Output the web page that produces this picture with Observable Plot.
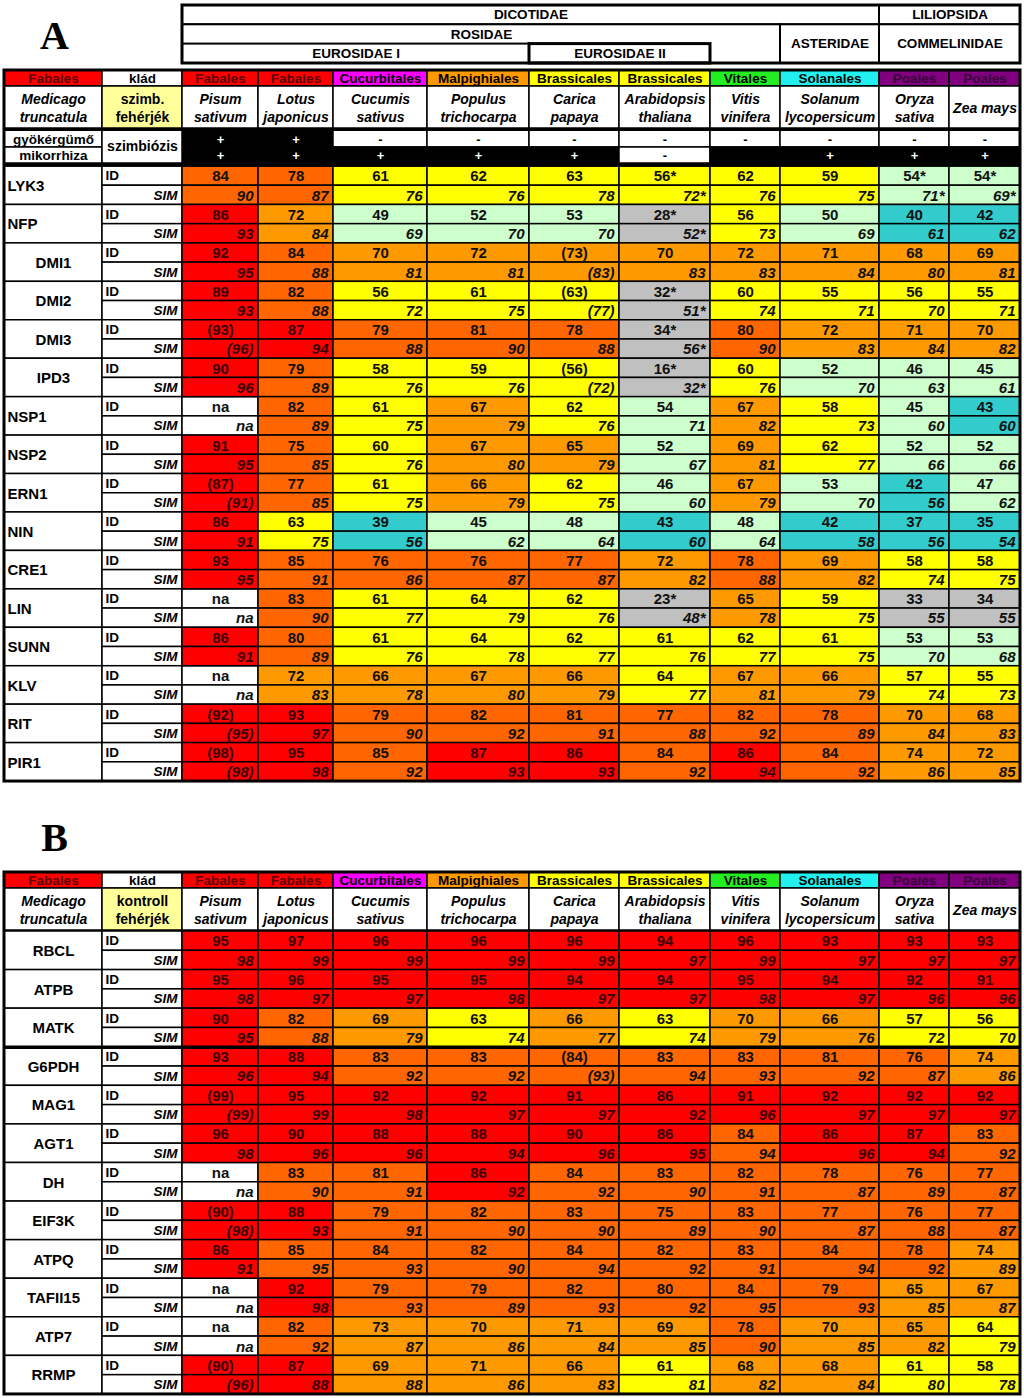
<!DOCTYPE html>
<html><head><meta charset="utf-8">
<script src="https://cdn.jsdelivr.net/npm/d3@7"></script>
<script src="https://cdn.jsdelivr.net/npm/@observablehq/plot@0.6"></script>
<style>body{margin:0;background:#fff} svg{display:block}</style>
</head><body>
<script>
// ---------------- DATA ----------------
const refSpecies = "Medicago truncatula";
const refClade = "Fabales";
const species = ["Pisum sativum","Lotus japonicus","Cucumis sativus","Populus trichocarpa","Carica papaya",
  "Arabidopsis thaliana","Vitis vinifera","Solanum lycopersicum","Oryza sativa","Zea mays"];
const clades = ["Fabales","Fabales","Cucurbitales","Malpighiales","Brassicales","Brassicales","Vitales","Solanales","Poales","Poales"];
// taxonomic groups: species index range [from, to)
const taxGroups = [
  {label:"DICOTIDAE", from:0, to:8, level:0, depth:1},
  {label:"LILIOPSIDA", from:8, to:10, level:0, depth:1},
  {label:"ROSIDAE", from:0, to:7, level:1, depth:2, textTop:true},
  {label:"ASTERIDAE", from:7, to:8, level:1, depth:2},
  {label:"COMMELINIDAE", from:8, to:10, level:1, depth:2},
  {label:"EUROSIDAE I", from:0, to:4, level:2, depth:1},
  {label:"EUROSIDAE II", from:4, to:6, level:2, depth:1, thick:true}
];
const symbLabels = ["gyökérgümő","mikorrhiza"];
const nodulation = ["+","+","-","-","-","-","-","-","-","-"];
const mycorrhiza = ["+","+","+","+","+","-","","+","+","+"];

const genesA = ["LYK3","NFP","DMI1","DMI2","DMI3","IPD3","NSP1","NSP2","ERN1","NIN","CRE1","LIN","SUNN","KLV","RIT","PIR1"];
const idA = [
  ["84","78","61","62","63","56*","62","59","54*","54*"],
  ["86","72","49","52","53","28*","56","50","40","42"],
  ["92","84","70","72","(73)","70","72","71","68","69"],
  ["89","82","56","61","(63)","32*","60","55","56","55"],
  ["(93)","87","79","81","78","34*","80","72","71","70"],
  ["90","79","58","59","(56)","16*","60","52","46","45"],
  ["na","82","61","67","62","54","67","58","45","43"],
  ["91","75","60","67","65","52","69","62","52","52"],
  ["(87)","77","61","66","62","46","67","53","42","47"],
  ["86","63","39","45","48","43","48","42","37","35"],
  ["93","85","76","76","77","72","78","69","58","58"],
  ["na","83","61","64","62","23*","65","59","33","34"],
  ["86","80","61","64","62","61","62","61","53","53"],
  ["na","72","66","67","66","64","67","66","57","55"],
  ["(92)","93","79","82","81","77","82","78","70","68"],
  ["(98)","95","85","87","86","84","86","84","74","72"]
];
const simA = [
  ["90","87","76","76","78","72*","76","75","71*","69*"],
  ["93","84","69","70","70","52*","73","69","61","62"],
  ["95","88","81","81","(83)","83","83","84","80","81"],
  ["93","88","72","75","(77)","51*","74","71","70","71"],
  ["(96)","94","88","90","88","56*","90","83","84","82"],
  ["96","89","76","76","(72)","32*","76","70","63","61"],
  ["na","89","75","79","76","71","82","73","60","60"],
  ["95","85","76","80","79","67","81","77","66","66"],
  ["(91)","85","75","79","75","60","79","70","56","62"],
  ["91","75","56","62","64","60","64","58","56","54"],
  ["95","91","86","87","87","82","88","82","74","75"],
  ["na","90","77","79","76","48*","78","75","55","55"],
  ["91","89","76","78","77","76","77","75","70","68"],
  ["na","83","78","80","79","77","81","79","74","73"],
  ["(95)","97","90","92","91","88","92","89","84","83"],
  ["(98)","98","92","93","93","92","94","92","86","85"]
];

const genesB = ["RBCL","ATPB","MATK","G6PDH","MAG1","AGT1","DH","EIF3K","ATPQ","TAFII15","ATP7","RRMP"];
const idB = [
  ["95","97","96","96","96","94","96","93","93","93"],
  ["95","96","95","95","94","94","95","94","92","91"],
  ["90","82","69","63","66","63","70","66","57","56"],
  ["93","88","83","83","(84)","83","83","81","76","74"],
  ["(99)","95","92","92","91","86","91","92","92","92"],
  ["96","90","88","88","90","86","84","86","87","83"],
  ["na","83","81","86","84","83","82","78","76","77"],
  ["(90)","88","79","82","83","75","83","77","76","77"],
  ["86","85","84","82","84","82","83","84","78","74"],
  ["na","92","79","79","82","80","84","79","65","67"],
  ["na","82","73","70","71","69","78","70","65","64"],
  ["(90)","87","69","71","66","61","68","68","61","58"]
];
const simB = [
  ["98","99","99","99","99","97","99","97","97","97"],
  ["98","97","97","98","97","97","98","97","96","96"],
  ["95","88","79","74","77","74","79","76","72","70"],
  ["96","94","92","92","(93)","94","93","92","87","86"],
  ["(99)","99","98","97","97","92","96","97","97","97"],
  ["98","96","96","94","96","95","94","96","94","92"],
  ["na","90","91","92","92","90","91","87","89","87"],
  ["(98)","93","91","90","90","89","90","87","88","87"],
  ["91","95","93","90","94","92","91","94","92","89"],
  ["na","98","93","89","93","92","95","93","85","87"],
  ["na","92","87","86","84","85","90","85","82","79"],
  ["(96)","88","88","86","83","81","82","84","80","78"]
];
const idBins = [35,45,55,65,75,86];

// ---------------- STYLE / LAYOUT ----------------
const F = "Liberation Sans, Arial, Helvetica, sans-serif";
const binColors = ["#C0C0C0","#33CCCC","#CCFFCC","#FFFF00","#FF9900","#FF6600","#FF0000"];
const cladeFill = {Fabales:"#FF0000", Cucurbitales:"#FF00FF", Malpighiales:"#FF9900", Brassicales:"#FFFF00",
  Vitales:"#22EE22", Solanales:"#22F0F0", Poales:"#800080"};
const cladeText = {Fabales:"#5a0000", Poales:"#380038"};
const redText = "#3a0000";
const centeredA = new Set(["DMI1","DMI2","DMI3","IPD3"]);
const colWidths = [98,80,76,75,94,102,90,91,70,99,70,71];
const edges = Array.from(d3.cumsum([4, ...colWidths]));
const W = 1024, H = 1398;
const panels = [
  {letter:"A", top:0, side:"szimb.\nfehérjék", genes:genesA, id:idA, sim:simA, symb:true, genesTop:166, rowH:19.22, centered:g=>centeredA.has(g), seps:[]},
  {letter:"B", top:802, side:"kontroll\nfehérjék", genes:genesB, id:idB, sim:simB, symb:false, genesTop:129, rowH:19.29, centered:()=>true, seps:[3]}
];

const num = s => parseFloat(String(s).replace(/[()*]/g,""));
const marks = [];
const R = (r, opt={}) => marks.push(Plot.rect([r], {x1:"x1",x2:"x2",y1:"y1",y2:"y2", stroke:"black", strokeWidth:1.5, fill:"white", ...opt}));
const T = (t, opt={}) => marks.push(Plot.text([t], {x:"x",y:"y",text:"t", fontFamily:F, fontWeight:"bold", fontSize:14, lineAnchor:"middle", fill:"black", ...opt}));
const HL = (y, sw) => marks.push(Plot.ruleY([{y}], {y:"y", x1:edges[0], x2:edges[edges.length-1], stroke:"black", strokeWidth:sw}));

const heat = [], vals = [];
const cladeY1 = 70, cladeY2 = 86, specY2 = 128;

panels.forEach(p => {
  const o = p.top;
  T({x:54, y:o+48, t:p.letter}, {fontFamily:"Liberation Serif, Times New Roman, serif", fontSize:40, lineAnchor:"bottom", textAnchor:"middle"});
  if (p.symb) {
    const lv = [5, 24.3, 43.6, 63];
    taxGroups.forEach(g => {
      const x1 = edges[g.from+2], x2 = edges[g.to+2];
      const y1 = o+lv[g.level], y2 = o+lv[g.level+g.depth];
      R({x1,x2,y1,y2}, {strokeWidth: g.thick ? 3 : 2});
      const ty = g.textTop ? (o+lv[g.level]+o+lv[g.level+1])/2 : (y1+y2)/2;
      T({x:(x1+x2)/2, y:ty, t:g.label}, {fontSize:13.5});
    });
    R({x1:edges[2], x2:edges[12], y1:o+5, y2:o+63}, {fill:"none", strokeWidth:3});
  }
  const cy1 = o+cladeY1, cy2 = o+cladeY2, sy2 = o+specY2;
  R({x1:edges[0],x2:edges[1],y1:cy1,y2:cy2}, {fill:cladeFill[refClade]});
  T({x:(edges[0]+edges[1])/2, y:(cy1+cy2)/2+0.5, t:refClade}, {fontSize:13.5, fill:cladeText[refClade]});
  R({x1:edges[1],x2:edges[2],y1:cy1,y2:cy2});
  T({x:(edges[1]+edges[2])/2, y:(cy1+cy2)/2+0.5, t:"klád"}, {fontSize:13.5});
  clades.forEach((c,j) => {
    const x1 = edges[j+2], x2 = edges[j+3];
    R({x1,x2,y1:cy1,y2:cy2}, {fill:cladeFill[c]});
    T({x:(x1+x2)/2, y:(cy1+cy2)/2+0.5, t:c}, {fontSize:13.5, fill:cladeText[c] || "black"});
  });
  const twoLine = s => s.length <= 8 ? s : s.replace(" ", "\n");
  R({x1:edges[0],x2:edges[1],y1:cy2,y2:sy2});
  T({x:(edges[0]+edges[1])/2, y:(cy2+sy2)/2, t:twoLine(refSpecies)}, {fontStyle:"italic", lineHeight:1.3});
  R({x1:edges[1],x2:edges[2],y1:cy2,y2:sy2}, {fill:"#FFFF99"});
  T({x:(edges[1]+edges[2])/2, y:(cy2+sy2)/2, t:p.side}, {lineHeight:1.3});
  species.forEach((s,j) => {
    const x1 = edges[j+2], x2 = edges[j+3];
    R({x1,x2,y1:cy2,y2:sy2});
    T({x:(x1+x2)/2, y:(cy2+sy2)/2, t:twoLine(s)}, {fontStyle:"italic", lineHeight:1.3});
  });
  if (p.symb) {
    const yA = o+130, yB = o+147, yC = o+163;
    [[yA,yB],[yB,yC]].forEach(([y1,y2],k) => {
      R({x1:edges[0],x2:edges[1],y1,y2});
      T({x:(edges[0]+edges[1])/2, y:(y1+y2)/2+0.5, t:symbLabels[k]}, {fontSize:13.5});
      const arr = k === 0 ? nodulation : mycorrhiza;
      arr.forEach((v,j) => {
        const x1 = edges[j+2], x2 = edges[j+3];
        const pos = v !== "-";
        R({x1,x2,y1,y2}, {fill: pos ? "black" : "white"});
        if (v) T({x:(x1+x2)/2, y:(y1+y2)/2+0.5, t:v}, {fill: pos ? "white" : "black", fontSize:13});
      });
    });
    R({x1:edges[1],x2:edges[2],y1:yA,y2:yC});
    T({x:(edges[1]+edges[2])/2, y:(yA+yC)/2, t:"szimbiózis"});
    HL(o+129, 3);
    HL(o+164.5, 3.5);
  } else {
    HL(o+129.5, 3.5);
  }
  const h = p.rowH;
  p.genes.forEach((g,gi) => {
    const y0 = o + p.genesTop + gi*2*h;
    R({x1:edges[0],x2:edges[1],y1:y0,y2:y0+2*h});
    if (p.centered(g)) T({x:(edges[0]+edges[1])/2, y:y0+h+0.5, t:g}, {fontSize:15});
    else T({x:edges[0]+3, y:y0+h+0.5, t:g}, {fontSize:15, textAnchor:"start"});
    R({x1:edges[1],x2:edges[2],y1:y0,y2:y0+h});
    R({x1:edges[1],x2:edges[2],y1:y0+h,y2:y0+2*h});
    T({x:edges[1]+3, y:y0+h/2, t:"ID"}, {fontSize:13.5, textAnchor:"start"});
    T({x:edges[2]-5, y:y0+1.5*h, t:"SIM"}, {fontSize:13.5, textAnchor:"end", fontStyle:"italic"});
    species.forEach((s,j) => {
      const x1 = edges[j+2], x2 = edges[j+3];
      const v = num(p.id[gi][j]);
      heat.push({x1,x2,y1:y0,y2:y0+h,v});
      heat.push({x1,x2,y1:y0+h,y2:y0+2*h,v});
      const red = v >= idBins[idBins.length-1];
      vals.push({x:(x1+x2)/2, y:y0+h/2+0.5, t:p.id[gi][j], sim:false, red});
      vals.push({x:x2-5, y:y0+1.5*h+0.5, t:p.sim[gi][j], sim:true, red});
    });
  });
  p.yEnd = o + p.genesTop + p.genes.length*2*h;
});

const cellOpt = {x1:"x1",x2:"x2",y1:"y1",y2:"y2", stroke:"black", strokeWidth:1.5};
const valOpt = {x:"x", y:"y", text:"t", fontFamily:F, fontWeight:"bold", fontSize:15, lineAnchor:"middle"};
const allMarks = [
  ...marks,
  Plot.rect(heat.filter(d => isNaN(d.v)), {...cellOpt, fill:"white"}),
  Plot.rect(heat.filter(d => !isNaN(d.v)), {...cellOpt, fill:"v"}),
  Plot.text(vals.filter(d => !d.sim && !d.red), {...valOpt, textAnchor:"middle", fill:"#111"}),
  Plot.text(vals.filter(d => !d.sim && d.red), {...valOpt, textAnchor:"middle", fill:redText}),
  Plot.text(vals.filter(d => d.sim && !d.red), {...valOpt, textAnchor:"end", fontStyle:"italic", fill:"#111"}),
  Plot.text(vals.filter(d => d.sim && d.red), {...valOpt, textAnchor:"end", fontStyle:"italic", fill:redText}),
  ...panels.map(p => Plot.rect([{x1:edges[0], x2:edges[12], y1:p.top+cladeY1, y2:p.yEnd}], {x1:"x1",x2:"x2",y1:"y1",y2:"y2", fill:"none", stroke:"black", strokeWidth:3}))
];
panels.forEach(p => p.seps.forEach(k => allMarks.push(Plot.ruleY([{y:p.top+p.genesTop+k*2*p.rowH}], {y:"y", x1:edges[0], x2:edges[12], stroke:"black", strokeWidth:3.5}))));
panels.forEach(p => { if (p.symb) allMarks.push(Plot.ruleY([{y:p.top+164.5}], {y:"y", x1:edges[0], x2:edges[12], stroke:"black", strokeWidth:3.5})); });

const chart = Plot.plot({
  width: W, height: H, margin: 0,
  x: {domain:[0,W], range:[0,W], axis:null},
  y: {domain:[0,H], range:[0,H], axis:null},
  color: {type:"threshold", domain:idBins, range:binColors},
  style: {background:"white"},
  marks: allMarks
});
document.body.appendChild(chart);
</script>
</body></html>
